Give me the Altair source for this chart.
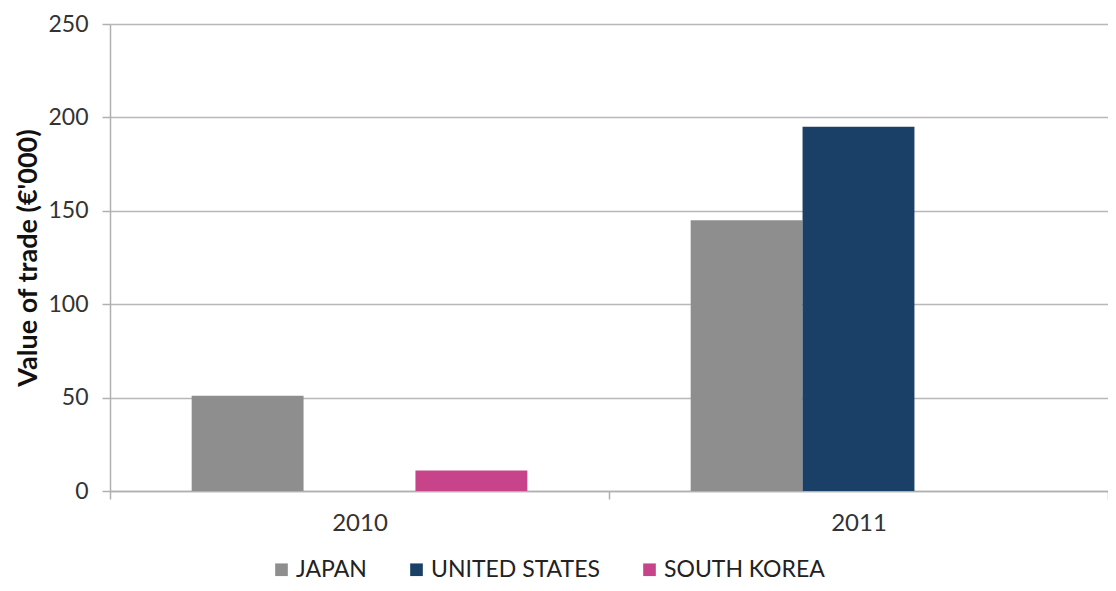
import altair as alt
import pandas as pd

years = ["2010", "2010", "2010", "2011", "2011", "2011"]
countries = ["JAPAN", "UNITED STATES", "SOUTH KOREA", "JAPAN", "UNITED STATES", "SOUTH KOREA"]
values = [51, 0, 11, 145, 195, 0]

country_order = ["JAPAN", "UNITED STATES", "SOUTH KOREA"]
country_colors = ["#8e8e8e", "#1b4068", "#c8448a"]

df = pd.DataFrame({"year": years, "country": countries, "value": values})

FONT = "Lato"

chart = alt.Chart(df).mark_bar().encode(
    x=alt.X("year:N", title=None,
            scale=alt.Scale(paddingInner=0, paddingOuter=0),
            axis=alt.Axis(labelAngle=0, labelFontSize=24, labelFont=FONT, labelColor="#333333",
                          labelPadding=12, tickBand="extent", tickSize=8, tickColor="#b0b0b0",
                          domainColor="#b0b0b0", domainWidth=1.5, tickWidth=1.5, grid=False)),
    xOffset=alt.XOffset("country:N", sort=country_order,
                        scale=alt.Scale(paddingInner=0, paddingOuter=0.73)),
    y=alt.Y("value:Q", title="Value of trade (€'000)",
            scale=alt.Scale(domain=[0, 250], nice=False),
            axis=alt.Axis(values=[0, 50, 100, 150, 200, 250], labelFontSize=23, labelFont=FONT,
                          labelColor="#333333", labelPadding=14, tickSize=8, tickColor="#b0b0b0",
                          tickWidth=1.5, domainColor="#b0b0b0", domainWidth=1.5,
                          gridColor="#b8b8b8", gridWidth=1.5,
                          titleFont=FONT, titleFontSize=27, titleFontWeight="bold",
                          titleColor="#111111", titlePadding=5)),
    color=alt.Color("country:N", sort=country_order,
                    scale=alt.Scale(domain=country_order, range=country_colors),
                    legend=alt.Legend(title=None, orient="none", direction="horizontal",
                                      legendX=160, legendY=534, symbolType="square",
                                      symbolSize=160, symbolStrokeWidth=0, labelFontSize=23,
                                      labelFont=FONT, labelColor="#222222", columnPadding=38,
                                      labelOffset=3, labelLimit=400)),
).properties(
    width=998, height=467,
    autosize=alt.AutoSizeParams(type="none"),
    padding={"left": 102, "top": 16, "right": 0, "bottom": 92},
).configure_view(stroke=None)

chart.save("out.html", embed_options={"renderer": "svg", "actions": False})
